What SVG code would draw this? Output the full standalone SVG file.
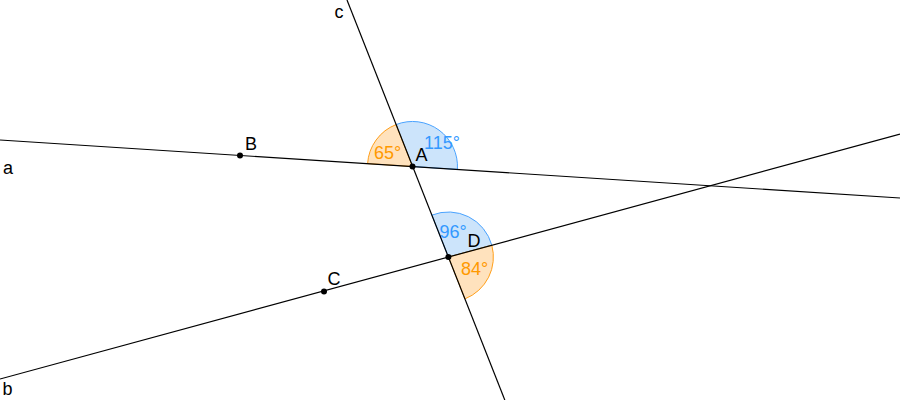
<svg xmlns="http://www.w3.org/2000/svg" width="900" height="400" viewBox="0 0 900 400">
<style>
.ln{stroke:#000;stroke-width:1.2;fill:none}
.ob{fill:#ffe2bd;stroke:#ff9f1a;stroke-width:1}
.bb{fill:#cce4fb;stroke:#4aa3ff;stroke-width:1}
.pt{fill:#000}
.lb{font-family:"Liberation Sans",Arial,sans-serif;font-size:18px;fill:#000}
.ot{font-family:"Liberation Sans",Arial,sans-serif;font-size:18px;fill:#ff9900}
.bt{font-family:"Liberation Sans",Arial,sans-serif;font-size:18px;fill:#3399ff}
</style>
<rect width="900" height="400" fill="#fff"/>
<g id="angles">
<g id="angle-A-115"><path class="bb" d="M412.5,166.5 L457.4,169.4 A45,45 0 0 0 396,124.6 Z"/><text class="bt" x="424" y="149">115°</text></g>
<g id="angle-A-65"><path class="ob" d="M412.5,166.5 L396,124.6 A45,45 0 0 0 367.6,163.6 Z"/><text class="ot" x="374" y="158.5">65°</text></g>
<g id="angle-D-96"><path class="bb" d="M448.4,257 L491.8,245.2 A45,45 0 0 0 431.9,215.1 Z"/><text class="bt" x="439.5" y="238">96°</text></g>
<g id="angle-D-84"><path class="ob" d="M448.4,257 L464.9,298.9 A45,45 0 0 0 491.8,245.2 Z"/><text class="ot" x="461" y="275">84°</text></g>
</g>
<g id="connectors">
<line id="line-a" class="ln" x1="0" y1="140" x2="900" y2="198"/>
<line id="line-b" class="ln" x1="0" y1="379" x2="900" y2="134.2"/>
<line id="line-c" class="ln" x1="347" y1="0" x2="504.8" y2="400"/>
</g>
<g id="line-labels">
<text class="lb" x="3" y="173.5">a</text>
<text class="lb" x="2.5" y="395">b</text>
<text class="lb" x="334.5" y="18">c</text>
</g>
<g id="point-A"><circle class="pt" cx="412.5" cy="166.5" r="3"/><text class="lb" x="415.5" y="161">A</text></g>
<g id="point-B"><circle class="pt" cx="240" cy="155.5" r="3"/><text class="lb" x="245" y="149.5">B</text></g>
<g id="point-C"><circle class="pt" cx="324" cy="291.5" r="3"/><text class="lb" x="327.5" y="285">C</text></g>
<g id="point-D"><circle class="pt" cx="448.4" cy="257" r="3"/><text class="lb" x="467.5" y="247">D</text></g>
</svg>
